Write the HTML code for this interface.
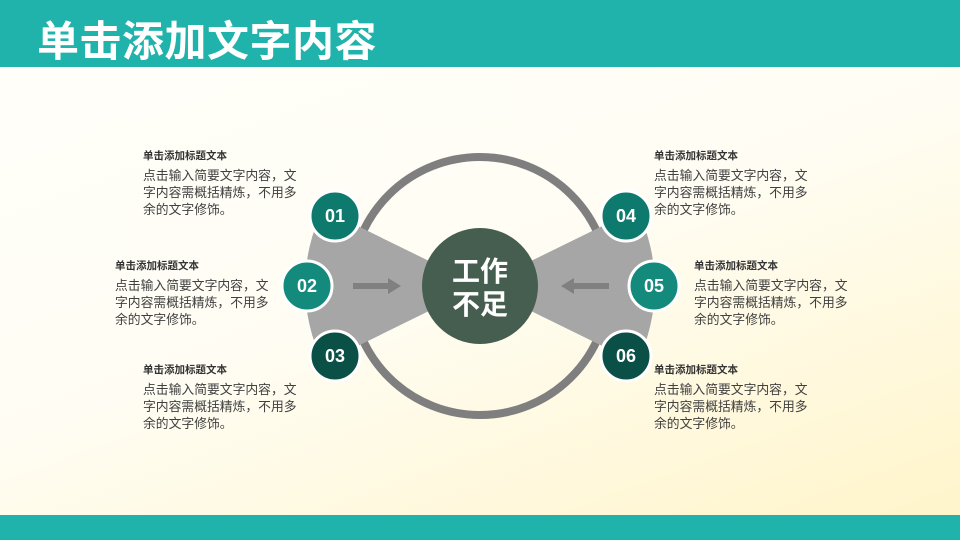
<!DOCTYPE html>
<html><head><meta charset="utf-8"><style>
body{margin:0;width:960px;height:540px;overflow:hidden;position:relative;font-family:"Liberation Sans","Noto Sans CJK SC",sans-serif;
background:linear-gradient(160deg,#fffefa 0%,#fffdf3 50%,#fff4c8 100%);}
.top{position:absolute;left:0;top:0;width:960px;height:67px;background:#1fb3ab}
.title{position:absolute;left:37px;top:17px;font-size:42px;font-weight:bold;color:#fff;line-height:50px;letter-spacing:0.5px}
.bot{position:absolute;left:0;top:515px;width:960px;height:25px;background:#1fb3ab}
.blk{position:absolute;width:160px;color:#404040}
.blk h4{margin:0 0 4px 0;font-size:10.5px;font-weight:bold;color:#333;line-height:14px}
.blk p{margin:0;font-size:12.8px;line-height:17px}
svg{position:absolute;left:0;top:0}
</style></head><body>
<div class="top"></div><div class="title">单击添加文字内容</div>
<div class="bot"></div>
<svg width="960" height="540">
<circle cx="480" cy="286" r="129" fill="none" stroke="#7f7f7f" stroke-width="8"/>
<path d="M480,286 L323,209 A175,175 0 0 0 323,363 Z" fill="#a6a6a6"/>
<path d="M480,286 L637,209 A175,175 0 0 1 637,363 Z" fill="#a6a6a6"/>
<circle cx="480" cy="286" r="58" fill="#465e4f"/>
<text x="480" y="281" text-anchor="middle" font-size="28" font-weight="bold" fill="#fff" font-family="Liberation Sans,Noto Sans CJK SC,sans-serif">工作</text>
<text x="480" y="314" text-anchor="middle" font-size="28" font-weight="bold" fill="#fff" font-family="Liberation Sans,Noto Sans CJK SC,sans-serif">不足</text>
<path d="M353,283 L388,283 L388,278 L401,286 L388,294 L388,289 L353,289 Z" fill="#808080"/>
<path d="M609,283 L574,283 L574,278 L561,286 L574,294 L574,289 L609,289 Z" fill="#808080"/>
<g stroke="#fff" stroke-width="3">
<circle cx="335" cy="216" r="25" fill="#0e7a6e"/>
<circle cx="307" cy="286" r="25" fill="#148a7d"/>
<circle cx="335" cy="356" r="25" fill="#0b5046"/>
<circle cx="626" cy="216" r="25" fill="#0e7a6e"/>
<circle cx="654" cy="286" r="25" fill="#148a7d"/>
<circle cx="626" cy="356" r="25" fill="#0b5046"/>
</g>
<g fill="#fff" font-family="Liberation Sans,sans-serif" font-size="18" font-weight="bold" text-anchor="middle">
<text x="335" y="222">01</text><text x="307" y="292">02</text><text x="335" y="362">03</text>
<text x="626" y="222">04</text><text x="654" y="292">05</text><text x="626" y="362">06</text>
</g>
</svg>
<div class="blk" style="left:143px;top:149px"><h4>单击添加标题文本</h4><p>点击输入简要文字内容，文字内容需概括精炼，不用多余的文字修饰。</p></div>
<div class="blk" style="left:115px;top:259px"><h4>单击添加标题文本</h4><p>点击输入简要文字内容，文字内容需概括精炼，不用多余的文字修饰。</p></div>
<div class="blk" style="left:143px;top:363px"><h4>单击添加标题文本</h4><p>点击输入简要文字内容，文字内容需概括精炼，不用多余的文字修饰。</p></div>
<div class="blk" style="left:654px;top:149px"><h4>单击添加标题文本</h4><p>点击输入简要文字内容，文字内容需概括精炼，不用多余的文字修饰。</p></div>
<div class="blk" style="left:694px;top:259px"><h4>单击添加标题文本</h4><p>点击输入简要文字内容，文字内容需概括精炼，不用多余的文字修饰。</p></div>
<div class="blk" style="left:654px;top:363px"><h4>单击添加标题文本</h4><p>点击输入简要文字内容，文字内容需概括精炼，不用多余的文字修饰。</p></div>
</body></html>
